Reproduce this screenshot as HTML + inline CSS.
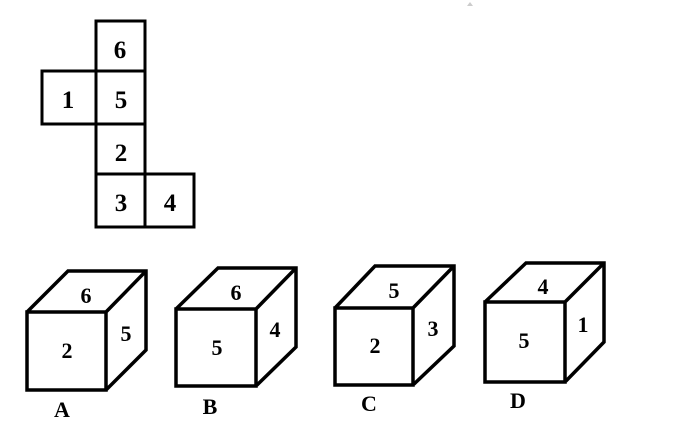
<!DOCTYPE html>
<html><head><meta charset="utf-8"><style>
html,body{margin:0;padding:0;background:#fff;width:675px;height:421px;overflow:hidden}
text{font-family:"Liberation Serif",serif;font-weight:bold;text-anchor:middle}
.n{font-size:25px}
.c{font-size:22px}
</style></head><body>
<svg width="675" height="421" viewBox="0 0 675 421" xmlns="http://www.w3.org/2000/svg">
<g fill="none" stroke="#000" stroke-width="3" stroke-linejoin="miter">
<rect x="96" y="21" width="49" height="50"/>
<rect x="96" y="71" width="49" height="53"/>
<rect x="42" y="71" width="54" height="53"/>
<rect x="96" y="124" width="49" height="50"/>
<rect x="96" y="174" width="49" height="53"/>
<rect x="145" y="174" width="49" height="53"/>
</g>
<text class="n" x="120" y="58">6</text>
<text class="n" x="68" y="108">1</text>
<text class="n" x="121" y="108">5</text>
<text class="n" x="121" y="161">2</text>
<text class="n" x="121" y="211">3</text>
<text class="n" x="170" y="211">4</text>

<g fill="none" stroke="#000" stroke-width="3.5" stroke-linejoin="miter">
<path d="M27 312 L68 271 L146 271 L146 350 L106 390 M106 312 L146 271 M27 312 H106 V390 H27 Z"/>
<path d="M176 309 L218 268 L296 268 L296 347 L256 386 M256 309 L296 268 M176 309 H256 V386 H176 Z"/>
<path d="M335 308 L375 266 L454 266 L454 346 L413 385 M413 308 L454 266 M335 308 H413 V385 H335 Z"/>
<path d="M485 302 L526 263 L604 263 L604 342 L565 382 M565 302 L604 263 M485 302 H565 V382 H485 Z"/>
</g>
<text class="c" x="86" y="303">6</text><text class="c" x="126" y="341">5</text><text class="c" x="67" y="358">2</text>
<text class="c" x="236" y="300">6</text><text class="c" x="275" y="337">4</text><text class="c" x="217" y="355">5</text>
<text class="c" x="394" y="298">5</text><text class="c" x="433" y="336">3</text><text class="c" x="375" y="353">2</text>
<text class="c" x="543" y="294">4</text><text class="c" x="583" y="332">1</text><text class="c" x="524" y="348">5</text>
<text class="c" x="62" y="417">A</text><text class="c" x="210" y="414">B</text><text class="c" x="369" y="411">C</text><text class="c" x="518" y="408">D</text>
<path d="M467 6 L470 2 L473 6 Z" fill="#ccc"/>
</svg>
</body></html>
